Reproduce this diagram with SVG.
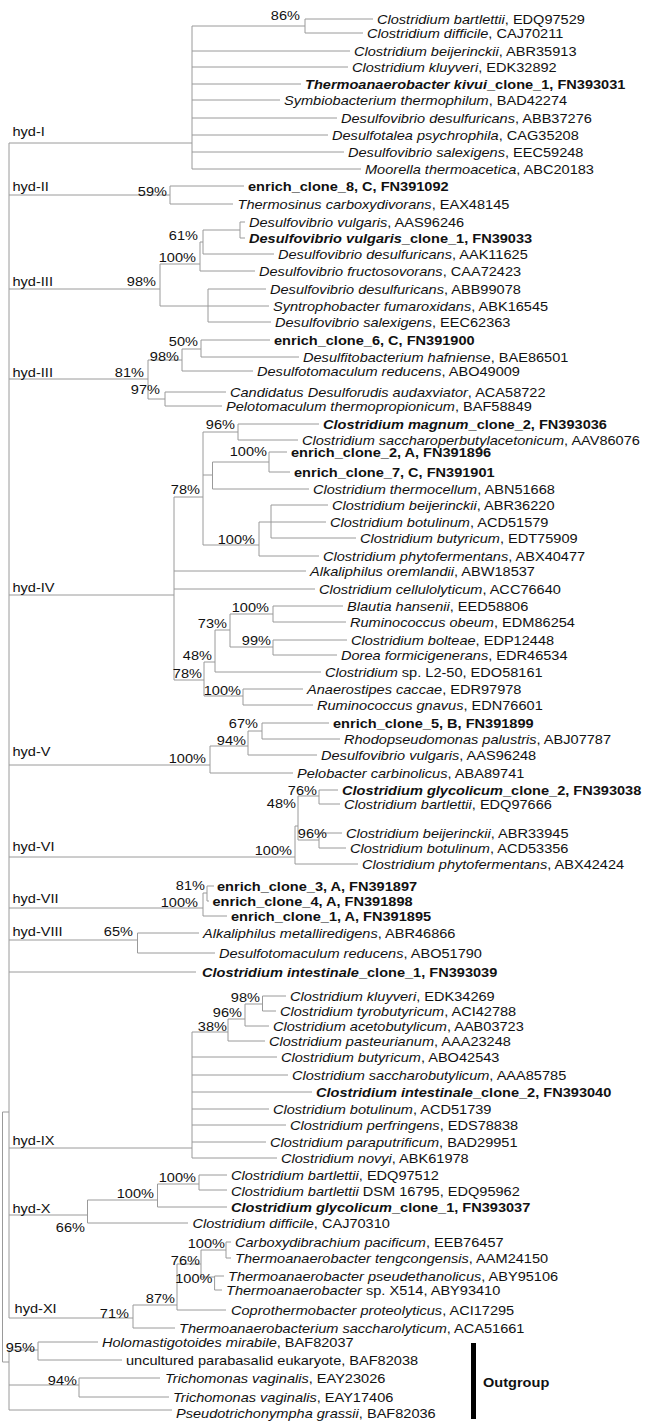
<svg xmlns="http://www.w3.org/2000/svg" width="645" height="1421" viewBox="0 0 645 1421">
<style>
.ln{fill:none;stroke:#9a9a9a;stroke-width:1}
text{font-family:"Liberation Sans",Arial,sans-serif;font-size:13px;fill:#111}
.i{font-style:italic}
.b{font-weight:bold}
.bs{text-anchor:end}
</style>
<rect width="645" height="1421" fill="#fff"/>
<g id="connectors">
<path class="ln" d="M9 143V1318M2.5 1112V1362M2.5 1112H9M2.5 1362H9M9 1350V1410
M9 143H192M9 195H170M9 289H160M9 379H148M9 595H174M9 765H210M9 857H295M9 908H203M9 940H137.5M9 972H196M9 1148H192M9 1215H87.5M9 1318H133
M192 26V169M192 26H305M305 19V33M305 19H373M305 33H363M192 51H350M192 67H348M192 84H301M192 100H280M192 118H337M192 135H328M192 152H344M192 169H361
M170 186V204M170 186H244M170 204H233
M160 264V306M160 264H200M200 242V271M200 242H203M203 230V254M203 230H240M240 222V238M240 222H245M240 238H245M203 254H274M200 271H255M160 306H208M208 289V322M208 289H266M208 306H269M208 322H271
M148 360V399M148 360H182M182 349V371M182 349H201M201 340V357M201 340H270M201 357H299M182 371H253M148 399H165M165 392V406M165 392H226M165 406H222
M174 497V680M174 497H203M203 432V545M203 432H238M238 424V440M238 424H319M238 440H298M203 475H212.5M212.5 462V489M212.5 462H269M269 452V472M269 452H287M269 472H290M212.5 489H309M203 545H259M259 522V556M259 522H271M271 505V538M271 505H328M271 522H326M271 538H356M259 556H319M174 571H306M174 589H315M174 680H204M204 662V696M204 662H215M215 630V672M215 630H230M230 614V647M230 614H273M273 606V622M273 606H343M273 622H346M230 647H273M273 640V655M273 640H347M273 655H337M215 672H321M204 696H243M243 689V705M243 689H303M243 705H313
M210 746V773M210 746H248M248 731V755M248 731H262M262 723V739M262 723H329M262 739H340M248 755H317M210 773H293
M295 826V864M295 826H298M298 796V840M298 796H319M319 790V804M319 790H338M319 804H340M298 840H319M319 833V848M319 833H342M319 848H346M295 864H358
M203 893V916M203 893H207M207 886V901M207 886H214M207 901H209M203 916H227
M137.5 933V953M137.5 933H199M137.5 953H215
M192 1032V1158M192 1032H228M228 1019V1041M228 1019H245M245 1004V1026M245 1004H262.5M262.5 996V1011M262.5 996H286M262.5 1011H276M245 1026H269M228 1041H265M192 1057H277M192 1075H288M192 1092H312M192 1109H269M192 1125H286M192 1142H266M192 1158H277
M87.5 1200V1223M87.5 1200H157.5M157.5 1184V1207M157.5 1184H199M199 1175V1190M199 1175H227M199 1190H227M157.5 1207H227M87.5 1223H188
M133 1305V1328M133 1305H177M177 1264V1310M177 1264H201M201 1250V1277M201 1250H226M226 1242V1258M226 1242H231M226 1258H231M201 1277H214.6M214.6 1276V1290M214.6 1276H224M214.6 1290H222M177 1310H226M133 1328H175
M9 1350H38M38 1342V1360M38 1342H98M38 1360H122M9 1385H79M79 1378V1397M79 1378H160M79 1397H169M9 1410H172"/>
</g>
<g id="clades">
<text transform="translate(12.5 136) scale(1.12 1)">hyd-I</text>
<text transform="translate(12.5 191) scale(1.12 1)">hyd-II</text>
<text transform="translate(12.5 286) scale(1.12 1)">hyd-III</text>
<text transform="translate(12.5 377) scale(1.12 1)">hyd-III</text>
<text transform="translate(12.5 592) scale(1.12 1)">hyd-IV</text>
<text transform="translate(12.5 756) scale(1.12 1)">hyd-V</text>
<text transform="translate(12.5 851) scale(1.12 1)">hyd-VI</text>
<text transform="translate(12.5 903) scale(1.12 1)">hyd-VII</text>
<text transform="translate(12.5 936) scale(1.12 1)">hyd-VIII</text>
<text transform="translate(12.5 1145) scale(1.12 1)">hyd-IX</text>
<text transform="translate(12.5 1213) scale(1.12 1)">hyd-X</text>
<text transform="translate(14.6 1313) scale(1.12 1)">hyd-XI</text>
</g>
<g id="bootstrap">
<text class="bs" transform="translate(300 20) scale(1.12 1)">86%</text>
<text class="bs" transform="translate(167 196) scale(1.12 1)">59%</text>
<text class="bs" transform="translate(198 240) scale(1.12 1)">61%</text>
<text class="bs" transform="translate(196 262) scale(1.12 1)">100%</text>
<text class="bs" transform="translate(156 286) scale(1.12 1)">98%</text>
<text class="bs" transform="translate(198 346) scale(1.12 1)">50%</text>
<text class="bs" transform="translate(179 361) scale(1.12 1)">98%</text>
<text class="bs" transform="translate(144 377) scale(1.12 1)">81%</text>
<text class="bs" transform="translate(160 394) scale(1.12 1)">97%</text>
<text class="bs" transform="translate(235 429) scale(1.12 1)">96%</text>
<text class="bs" transform="translate(267 456) scale(1.12 1)">100%</text>
<text class="bs" transform="translate(200 494) scale(1.12 1)">78%</text>
<text class="bs" transform="translate(255 544) scale(1.12 1)">100%</text>
<text class="bs" transform="translate(269 612) scale(1.12 1)">100%</text>
<text class="bs" transform="translate(227 628) scale(1.12 1)">73%</text>
<text class="bs" transform="translate(271 645) scale(1.12 1)">99%</text>
<text class="bs" transform="translate(212 660) scale(1.12 1)">48%</text>
<text class="bs" transform="translate(202 678) scale(1.12 1)">78%</text>
<text class="bs" transform="translate(241 695) scale(1.12 1)">100%</text>
<text class="bs" transform="translate(258 728) scale(1.12 1)">67%</text>
<text class="bs" transform="translate(246 745) scale(1.12 1)">94%</text>
<text class="bs" transform="translate(206 763) scale(1.12 1)">100%</text>
<text class="bs" transform="translate(317 795) scale(1.12 1)">76%</text>
<text class="bs" transform="translate(296 808) scale(1.12 1)">48%</text>
<text class="bs" transform="translate(327 838) scale(1.12 1)">96%</text>
<text class="bs" transform="translate(292 855) scale(1.12 1)">100%</text>
<text class="bs" transform="translate(205 890) scale(1.12 1)">81%</text>
<text class="bs" transform="translate(198 907) scale(1.12 1)">100%</text>
<text class="bs" transform="translate(133 936) scale(1.12 1)">65%</text>
<text class="bs" transform="translate(260 1002) scale(1.12 1)">98%</text>
<text class="bs" transform="translate(242 1017) scale(1.12 1)">96%</text>
<text class="bs" transform="translate(227 1031) scale(1.12 1)">38%</text>
<text class="bs" transform="translate(196 1182) scale(1.12 1)">100%</text>
<text class="bs" transform="translate(154 1198) scale(1.12 1)">100%</text>
<text class="bs" transform="translate(85 1232) scale(1.12 1)">66%</text>
<text class="bs" transform="translate(225 1248) scale(1.12 1)">100%</text>
<text class="bs" transform="translate(200 1265) scale(1.12 1)">76%</text>
<text class="bs" transform="translate(212.5 1283) scale(1.12 1)">100%</text>
<text class="bs" transform="translate(175 1303) scale(1.12 1)">87%</text>
<text class="bs" transform="translate(129 1318) scale(1.12 1)">71%</text>
<text class="bs" transform="translate(35 1352) scale(1.12 1)">95%</text>
<text class="bs" transform="translate(77 1385) scale(1.12 1)">94%</text>
</g>
<g id="leaf1"><text transform="translate(377 24) scale(1.12 1)"><tspan class="i">Clostridium bartlettii</tspan>, EDQ97529</text></g>
<g id="leaf2"><text transform="translate(367 38) scale(1.12 1)"><tspan class="i">Clostridium difficile</tspan>, CAJ70211</text></g>
<g id="leaf3"><text transform="translate(354 56) scale(1.12 1)"><tspan class="i">Clostridium beijerinckii</tspan>, ABR35913</text></g>
<g id="leaf4"><text transform="translate(352 72) scale(1.12 1)"><tspan class="i">Clostridium kluyveri</tspan>, EDK32892</text></g>
<g id="leaf5"><text class="b" transform="translate(305 89) scale(1.12 1)"><tspan class="i">Thermoanaerobacter kivui</tspan>_clone_1, FN393031</text></g>
<g id="leaf6"><text transform="translate(284 105) scale(1.12 1)"><tspan class="i">Symbiobacterium thermophilum</tspan>, BAD42274</text></g>
<g id="leaf7"><text transform="translate(341 123) scale(1.12 1)"><tspan class="i">Desulfovibrio desulfuricans</tspan>, ABB37276</text></g>
<g id="leaf8"><text transform="translate(332 140) scale(1.12 1)"><tspan class="i">Desulfotalea psychrophila</tspan>, CAG35208</text></g>
<g id="leaf9"><text transform="translate(348 157) scale(1.12 1)"><tspan class="i">Desulfovibrio salexigens</tspan>, EEC59248</text></g>
<g id="leaf10"><text transform="translate(365 174) scale(1.12 1)"><tspan class="i">Moorella thermoacetica</tspan>, ABC20183</text></g>
<g id="leaf11"><text class="b" transform="translate(248 191) scale(1.12 1)">enrich_clone_8, C, FN391092</text></g>
<g id="leaf12"><text transform="translate(237.5 209) scale(1.12 1)"><tspan class="i">Thermosinus carboxydivorans</tspan>, EAX48145</text></g>
<g id="leaf13"><text transform="translate(249 227) scale(1.12 1)"><tspan class="i">Desulfovibrio vulgaris</tspan>, AAS96246</text></g>
<g id="leaf14"><text class="b" transform="translate(249 243) scale(1.12 1)"><tspan class="i">Desulfovibrio vulgaris</tspan>_clone_1, FN39033</text></g>
<g id="leaf15"><text transform="translate(278 259) scale(1.12 1)"><tspan class="i">Desulfovibrio desulfuricans</tspan>, AAK11625</text></g>
<g id="leaf16"><text transform="translate(259 276) scale(1.12 1)"><tspan class="i">Desulfovibrio fructosovorans</tspan>, CAA72423</text></g>
<g id="leaf17"><text transform="translate(270 294) scale(1.12 1)"><tspan class="i">Desulfovibrio desulfuricans</tspan>, ABB99078</text></g>
<g id="leaf18"><text transform="translate(273 311) scale(1.12 1)"><tspan class="i">Syntrophobacter fumaroxidans</tspan>, ABK16545</text></g>
<g id="leaf19"><text transform="translate(275 327) scale(1.12 1)"><tspan class="i">Desulfovibrio salexigens</tspan>, EEC62363</text></g>
<g id="leaf20"><text class="b" transform="translate(274 345) scale(1.12 1)">enrich_clone_6, C, FN391900</text></g>
<g id="leaf21"><text transform="translate(303 362) scale(1.12 1)"><tspan class="i">Desulfitobacterium hafniense</tspan>, BAE86501</text></g>
<g id="leaf22"><text transform="translate(257 376) scale(1.12 1)"><tspan class="i">Desulfotomaculum reducens</tspan>, ABO49009</text></g>
<g id="leaf23"><text transform="translate(230 397) scale(1.12 1)"><tspan class="i">Candidatus Desulforudis audaxviator</tspan>, ACA58722</text></g>
<g id="leaf24"><text transform="translate(226 411) scale(1.12 1)"><tspan class="i">Pelotomaculum thermopropionicum</tspan>, BAF58849</text></g>
<g id="leaf25"><text class="b" transform="translate(323 429) scale(1.12 1)"><tspan class="i">Clostridium magnum</tspan>_clone_2, FN393036</text></g>
<g id="leaf26"><text transform="translate(302 445) scale(1.12 1)"><tspan class="i">Clostridium saccharoperbutylacetonicum</tspan>, AAV86076</text></g>
<g id="leaf27"><text class="b" transform="translate(291 457) scale(1.12 1)">enrich_clone_2, A, FN391896</text></g>
<g id="leaf28"><text class="b" transform="translate(294 477) scale(1.12 1)">enrich_clone_7, C, FN391901</text></g>
<g id="leaf29"><text transform="translate(313 494) scale(1.12 1)"><tspan class="i">Clostridium thermocellum</tspan>, ABN51668</text></g>
<g id="leaf30"><text transform="translate(332 510) scale(1.12 1)"><tspan class="i">Clostridium beijerinckii</tspan>, ABR36220</text></g>
<g id="leaf31"><text transform="translate(330 527) scale(1.12 1)"><tspan class="i">Clostridium botulinum</tspan>, ACD51579</text></g>
<g id="leaf32"><text transform="translate(360 543) scale(1.12 1)"><tspan class="i">Clostridium butyricum</tspan>, EDT75909</text></g>
<g id="leaf33"><text transform="translate(323 561) scale(1.12 1)"><tspan class="i">Clostridium phytofermentans</tspan>, ABX40477</text></g>
<g id="leaf34"><text transform="translate(310 576) scale(1.12 1)"><tspan class="i">Alkaliphilus oremlandii</tspan>, ABW18537</text></g>
<g id="leaf35"><text transform="translate(319 594) scale(1.12 1)"><tspan class="i">Clostridium cellulolyticum</tspan>, ACC76640</text></g>
<g id="leaf36"><text transform="translate(347 611) scale(1.12 1)"><tspan class="i">Blautia hansenii</tspan>, EED58806</text></g>
<g id="leaf37"><text transform="translate(350 627) scale(1.12 1)"><tspan class="i">Ruminococcus obeum</tspan>, EDM86254</text></g>
<g id="leaf38"><text transform="translate(351 645) scale(1.12 1)"><tspan class="i">Clostridium bolteae</tspan>, EDP12448</text></g>
<g id="leaf39"><text transform="translate(341 660) scale(1.12 1)"><tspan class="i">Dorea formicigenerans</tspan>, EDR46534</text></g>
<g id="leaf40"><text transform="translate(325 677) scale(1.12 1)"><tspan class="i">Clostridium</tspan> sp. L2-50, EDO58161</text></g>
<g id="leaf41"><text transform="translate(307 694) scale(1.12 1)"><tspan class="i">Anaerostipes caccae</tspan>, EDR97978</text></g>
<g id="leaf42"><text transform="translate(317 710) scale(1.12 1)"><tspan class="i">Ruminococcus gnavus</tspan>, EDN76601</text></g>
<g id="leaf43"><text class="b" transform="translate(333 728) scale(1.12 1)">enrich_clone_5, B, FN391899</text></g>
<g id="leaf44"><text transform="translate(344 744) scale(1.12 1)"><tspan class="i">Rhodopseudomonas palustris</tspan>, ABJ07787</text></g>
<g id="leaf45"><text transform="translate(321 760) scale(1.12 1)"><tspan class="i">Desulfovibrio vulgaris</tspan>, AAS96248</text></g>
<g id="leaf46"><text transform="translate(297 778) scale(1.12 1)"><tspan class="i">Pelobacter carbinolicus</tspan>, ABA89741</text></g>
<g id="leaf47"><text class="b" transform="translate(342 795) scale(1.12 1)"><tspan class="i">Clostridium glycolicum</tspan>_clone_2, FN393038</text></g>
<g id="leaf48"><text transform="translate(344 809) scale(1.12 1)"><tspan class="i">Clostridium bartlettii</tspan>, EDQ97666</text></g>
<g id="leaf49"><text transform="translate(346 838) scale(1.12 1)"><tspan class="i">Clostridium beijerinckii</tspan>, ABR33945</text></g>
<g id="leaf50"><text transform="translate(350 853) scale(1.12 1)"><tspan class="i">Clostridium botulinum</tspan>, ACD53356</text></g>
<g id="leaf51"><text transform="translate(362 869) scale(1.12 1)"><tspan class="i">Clostridium phytofermentans</tspan>, ABX42424</text></g>
<g id="leaf52"><text class="b" transform="translate(217 891) scale(1.12 1)">enrich_clone_3, A, FN391897</text></g>
<g id="leaf53"><text class="b" transform="translate(212.5 906) scale(1.12 1)">enrich_clone_4, A, FN391898</text></g>
<g id="leaf54"><text class="b" transform="translate(231 921) scale(1.12 1)">enrich_clone_1, A, FN391895</text></g>
<g id="leaf55"><text transform="translate(203 938) scale(1.12 1)"><tspan class="i">Alkaliphilus metalliredigens</tspan>, ABR46866</text></g>
<g id="leaf56"><text transform="translate(219 958) scale(1.12 1)"><tspan class="i">Desulfotomaculum reducens</tspan>, ABO51790</text></g>
<g id="leaf57"><text class="b" transform="translate(202 977) scale(1.12 1)"><tspan class="i">Clostridium intestinale</tspan>_clone_1, FN393039</text></g>
<g id="leaf58"><text transform="translate(290 1001) scale(1.12 1)"><tspan class="i">Clostridium kluyveri</tspan>, EDK34269</text></g>
<g id="leaf59"><text transform="translate(280 1016) scale(1.12 1)"><tspan class="i">Clostridium tyrobutyricum</tspan>, ACI42788</text></g>
<g id="leaf60"><text transform="translate(273 1031) scale(1.12 1)"><tspan class="i">Clostridium acetobutylicum</tspan>, AAB03723</text></g>
<g id="leaf61"><text transform="translate(269 1046) scale(1.12 1)"><tspan class="i">Clostridium pasteurianum</tspan>, AAA23248</text></g>
<g id="leaf62"><text transform="translate(281 1062) scale(1.12 1)"><tspan class="i">Clostridium butyricum</tspan>, ABO42543</text></g>
<g id="leaf63"><text transform="translate(292 1080) scale(1.12 1)"><tspan class="i">Clostridium saccharobutylicum</tspan>, AAA85785</text></g>
<g id="leaf64"><text class="b" transform="translate(316 1097) scale(1.12 1)"><tspan class="i">Clostridium intestinale</tspan>_clone_2, FN393040</text></g>
<g id="leaf65"><text transform="translate(273 1114) scale(1.12 1)"><tspan class="i">Clostridium botulinum</tspan>, ACD51739</text></g>
<g id="leaf66"><text transform="translate(290 1130) scale(1.12 1)"><tspan class="i">Clostridium perfringens</tspan>, EDS78838</text></g>
<g id="leaf67"><text transform="translate(270 1147) scale(1.12 1)"><tspan class="i">Clostridium paraputrificum</tspan>, BAD29951</text></g>
<g id="leaf68"><text transform="translate(281 1163) scale(1.12 1)"><tspan class="i">Clostridium novyi</tspan>, ABK61978</text></g>
<g id="leaf69"><text transform="translate(231 1180) scale(1.12 1)"><tspan class="i">Clostridium bartlettii</tspan>, EDQ97512</text></g>
<g id="leaf70"><text transform="translate(231 1196) scale(1.12 1)"><tspan class="i">Clostridium bartlettii</tspan> DSM 16795, EDQ95962</text></g>
<g id="leaf71"><text class="b" transform="translate(231 1212) scale(1.12 1)"><tspan class="i">Clostridium glycolicum</tspan>_clone_1, FN393037</text></g>
<g id="leaf72"><text transform="translate(192.5 1228) scale(1.12 1)"><tspan class="i">Clostridium difficile</tspan>, CAJ70310</text></g>
<g id="leaf73"><text transform="translate(235 1247) scale(1.12 1)"><tspan class="i">Carboxydibrachium pacificum</tspan>, EEB76457</text></g>
<g id="leaf74"><text transform="translate(235 1263) scale(1.12 1)"><tspan class="i">Thermoanaerobacter tengcongensis</tspan>, AAM24150</text></g>
<g id="leaf75"><text transform="translate(228 1281) scale(1.12 1)"><tspan class="i">Thermoanaerobacter pseudethanolicus</tspan>, ABY95106</text></g>
<g id="leaf76"><text transform="translate(226 1295) scale(1.12 1)"><tspan class="i">Thermoanaerobacter</tspan> sp. X514, ABY93410</text></g>
<g id="leaf77"><text transform="translate(231 1315) scale(1.12 1)"><tspan class="i">Coprothermobacter proteolyticus</tspan>, ACI17295</text></g>
<g id="leaf78"><text transform="translate(179 1333) scale(1.12 1)"><tspan class="i">Thermoanaerobacterium saccharolyticum</tspan>, ACA51661</text></g>
<g id="leaf79"><text transform="translate(102 1347) scale(1.12 1)"><tspan class="i">Holomastigotoides mirabile</tspan>, BAF82037</text></g>
<g id="leaf80"><text transform="translate(126 1365) scale(1.12 1)">uncultured parabasalid eukaryote, BAF82038</text></g>
<g id="leaf81"><text transform="translate(165 1383) scale(1.12 1)"><tspan class="i">Trichomonas vaginalis</tspan>, EAY23026</text></g>
<g id="leaf82"><text transform="translate(173 1402) scale(1.12 1)"><tspan class="i">Trichomonas vaginalis</tspan>, EAY17406</text></g>
<g id="leaf83"><text transform="translate(176 1418) scale(1.12 1)"><tspan class="i">Pseudotrichonympha grassii</tspan>, BAF82036</text></g>
<g id="outgroup"><rect x="471" y="1343" width="5" height="76" fill="#000"/><text class="b" transform="translate(483 1387) scale(1.12 1)">Outgroup</text></g>
</svg>
